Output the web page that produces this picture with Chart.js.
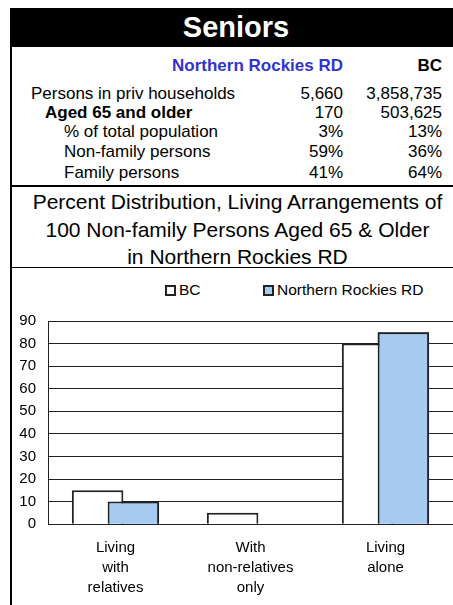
<!DOCTYPE html>
<html>
<head>
<meta charset="utf-8">
<script src="https://cdn.jsdelivr.net/npm/chart.js@4/dist/chart.umd.min.js"></script>
<style>
    html, body { margin: 0; padding: 0; background: #fff; }
    body { width: 453px; height: 605px; position: relative; font-family: "Liberation Sans", Arial, sans-serif; color: #000; }
    .frame-left { position: absolute; left: 10px; top: 8px; width: 2px; bottom: 0; background: #000; }
    .banner { position: absolute; left: 10px; right: 0; top: 8px; height: 39px; background: #000; color: #fff;
        font-weight: bold; font-size: 29px; line-height: 39px; text-align: center; padding-left: 9px; }
    .rule { position: absolute; left: 10px; right: 0; background: #000; }
    .cell { position: absolute; white-space: nowrap; font-size: 17px; line-height: 20px; }
    .num { text-align: right; }
    .chart-title { position: absolute; left: 12px; width: 441px; text-align: center; font-size: 21px; line-height: 27.5px; top: 188px; padding-left: 10px; box-sizing: border-box; }
    .legend { position: absolute; top: 280px; left: 165px; display: flex; font-size: 15.5px; line-height: 20px; white-space: nowrap; }
    .legend-item { display: flex; align-items: center; }
    .legend-item:first-child { width: 98px; }
    .legend-box { width: 11px; height: 11px; box-sizing: border-box; border: 2px solid #222; margin-right: 3px; }
    .chart-wrap { position: absolute; left: 12px; top: 300px; width: 441px; height: 305px; }
</style>
</head>
<body>
<div class="banner">Seniors</div>
<div class="frame-left"></div>
<div id="stats"></div>
<div class="rule" style="top:185px;height:2px"></div>
<div class="chart-title">Percent Distribution, Living Arrangements of<br>100 Non-family Persons Aged 65 &amp; Older<br>in Northern Rockies RD</div>
<div class="rule" style="top:267px;height:1px"></div>
<div class="legend" id="legend"></div>
<div class="chart-wrap"><canvas id="livingChart"></canvas></div>

<script>
// Table figures
const regionName = 'Northern Rockies RD';
const provinceName = 'BC';
const statLabels = ['Persons in priv households', 'Aged 65 and older', '% of total population', 'Non-family persons', 'Family persons'];
const regionStats = ['5,660', '170', '3%', '59%', '41%'];
const provinceStats = ['3,858,735', '503,625', '13%', '36%', '64%'];

// Chart figures
const categories = [['Living', 'with', 'relatives'], ['With', 'non-relatives', 'only'], ['Living', 'alone']];
const bcValues = [15, 5, 80];
const regionValues = [10, 0, 85];
const yMin = 0;
const yMax = 90;
const yStep = 10;

// Build stats table
const stats = document.getElementById('stats');
const rowCenters = [94, 113, 132, 152, 173];
const rowIndent = [31, 45, 64, 64, 64];

stats.innerHTML += `
    <div class="cell num" style="right:110px;top:56px;font-weight:bold;color:#3333cc">${regionName}</div>
    <div class="cell num" style="right:11px;top:56px;font-weight:bold">${provinceName}</div>`;
statLabels.forEach((label, i) => {
    const top = rowCenters[i] - 10;
    stats.innerHTML += `
        <div class="cell" style="left:${rowIndent[i]}px;top:${top}px;${i === 1 ? 'font-weight:bold' : ''}">${label}</div>
        <div class="cell num" style="right:110px;top:${top}px">${regionStats[i]}</div>
        <div class="cell num" style="right:11px;top:${top}px">${provinceStats[i]}</div>`;
});

const chartDatasets = [
    {
        label: provinceName,
        data: bcValues,
        backgroundColor: '#ffffff',
        borderColor: '#222222',
        borderWidth: 2
    },
    {
        label: regionName,
        data: regionValues,
        backgroundColor: '#a6caf0',
        borderColor: '#222222',
        borderWidth: 2
    }
];

// HTML legend built from the datasets
const legendEl = document.getElementById('legend');
chartDatasets.forEach(ds => {
    const item = document.createElement('div');
    item.className = 'legend-item';
    item.innerHTML = `<span class="legend-box" style="background:${ds.backgroundColor}"></span><span>${ds.label}</span>`;
    legendEl.appendChild(item);
});

// horizontal lines at each y tick, under the bars
const yGridLines = {
    id: 'yGridLines',
    beforeDatasetsDraw(chart) {
        const { ctx, chartArea, scales } = chart;
        const y = scales.y;
        ctx.save();
        ctx.strokeStyle = '#222222';
        ctx.lineWidth = 1;
        y.ticks.forEach(tick => {
            const py = Math.round(y.getPixelForValue(tick.value) - 0.5) + 0.5;
            ctx.beginPath();
            ctx.moveTo(chartArea.left, py);
            ctx.lineTo(chartArea.right, py);
            ctx.stroke();
        });
        ctx.restore();
    }
};

// region bars sit on top of the overlapping BC bars
const regionOnTop = {
    id: 'regionOnTop',
    afterDatasetsDraw(chart) {
        chart.getDatasetMeta(1).controller.draw();
    }
};

const tickFont = { family: '"Liberation Sans", Arial, sans-serif', size: 15 };

new Chart(document.getElementById('livingChart').getContext('2d'), {
    type: 'bar',
    data: { labels: categories, datasets: chartDatasets },
    plugins: [yGridLines, regionOnTop],
    options: {
        responsive: true,
        maintainAspectRatio: false,
        animation: false,
        layout: { padding: { top: 21, bottom: -7, left: 0, right: 0 } },
        datasets: {
            bar: { categoryPercentage: 0.53, barPercentage: 1.44 }
        },
        plugins: {
            legend: { display: false },
            tooltip: { enabled: false }
        },
        scales: {
            x: {
                grid: { display: false, drawTicks: false },
                border: { display: true, color: '#222', width: 1 },
                ticks: { color: '#000', font: { ...tickFont, lineHeight: 1.33 }, padding: 14, maxRotation: 0, autoSkip: false }
            },
            y: {
                min: yMin,
                max: yMax,
                afterFit: scale => { scale.width = 36; },
                grid: { color: '#222222', lineWidth: 1, drawTicks: false },
                border: { display: true, color: '#222', width: 1 },
                ticks: { stepSize: yStep, autoSkip: false, color: '#000', font: tickFont, padding: 12 }
            }
        }
    }
});
</script>
</body>
</html>
